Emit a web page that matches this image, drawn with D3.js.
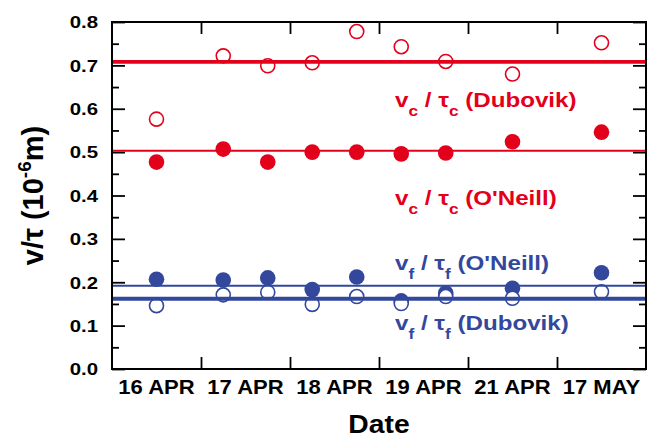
<!DOCTYPE html>
<html>
<head>
<meta charset="utf-8">
<script src="https://cdn.jsdelivr.net/npm/d3@7"></script>
<style>
  body { margin: 0; background: #fff; }
  text { font-family: "Liberation Sans", Arial, sans-serif; font-weight: bold; }
</style>
</head>
<body>
<div id="dataviz_area"></div>
<script>
// dates on the x axis, one band each
var dates = ["16 APR", "17 APR", "18 APR", "19 APR", "21 APR", "17 MAY"];

// when each measurement was taken, in band units (0 = start of 16 APR)
var obs_pos = [0.5, 1.25, 1.75, 2.25, 2.75, 3.25, 3.75, 4.5, 5.5];

// v/tau values, 10^-6 m
var vc_dubovik = [0.576, 0.722, 0.699, 0.706, 0.778, 0.743, 0.709, 0.680, 0.752];
var vc_oneill  = [0.477, 0.507, 0.477, 0.500, 0.500, 0.496, 0.498, 0.524, 0.546];
var vf_oneill  = [0.207, 0.205, 0.210, 0.183, 0.212, 0.157, 0.175, 0.186, 0.222];
var vf_dubovik = [0.146, 0.171, 0.177, 0.149, 0.167, 0.151, 0.167, 0.163, 0.178];

// mean of each series, drawn as horizontal lines
var mean_names  = ["vc_dubovik", "vc_oneill", "vf_oneill", "vf_dubovik"];
var mean_values = [0.708, 0.503, 0.192, 0.162];

var y_major = [0, 0.1, 0.2, 0.3, 0.4, 0.5, 0.6, 0.7, 0.8];
var y_minor = [0.05, 0.15, 0.25, 0.35, 0.45, 0.55, 0.65, 0.75];

var red = "#e3001b", blue = "#33489c";

var margin = {top: 22, right: 3, bottom: 70, left: 112},
    width = 649 - margin.left - margin.right,
    height = 439 - margin.top - margin.bottom;

var svg = d3.select("#dataviz_area")
    .append("svg")
    .attr("width", 649)
    .attr("height", 439);

var canvas = svg.append("g")
    .attr("transform", "translate(" + margin.left + "," + margin.top + ")");

var scale_x = d3.scaleLinear()
    .domain([0, dates.length])
    .range([0, width]);

var scale_y = d3.scaleLinear()
    .domain([0, 0.8])
    .range([height, 0]);

// ticks point inward on all four sides
function ticks(axis, size, vals, tr) {
    var g = canvas.append("g")
	.attr("transform", tr)
	.call(axis.tickValues(vals).tickSize(-size).tickFormat(""));
    g.select(".domain").remove();
    g.selectAll("line").attr("stroke", "#000").attr("stroke-width", 1.8);
}
ticks(d3.axisLeft(scale_y), 13, y_major, "translate(0,0)");
ticks(d3.axisLeft(scale_y), 7, y_minor, "translate(0,0)");
ticks(d3.axisRight(scale_y), 13, y_major, "translate(" + width + ",0)");
ticks(d3.axisRight(scale_y), 7, y_minor, "translate(" + width + ",0)");
ticks(d3.axisBottom(scale_x), 12, d3.range(1, dates.length), "translate(0," + height + ")");
ticks(d3.axisTop(scale_x), 12, d3.range(1, dates.length), "translate(0,0)");

// wide-ish bold labels, stretched a bit horizontally
function label(x, y, str, size, anchor, sx) {
    return svg.append("g")
	.attr("transform", "translate(" + x + "," + y + ") scale(" + sx + ",1)")
	.append("text")
	.attr("text-anchor", anchor)
	.attr("font-size", size)
	.attr("fill", "#000")
	.text(str);
}

y_major.forEach(function(v) {
    label(margin.left - 14, margin.top + scale_y(v) + 6.3, d3.format(".1f")(v), 17, "end", 1.2);
});

dates.forEach(function(d, i) {
    label(margin.left + scale_x(i + 0.5), 393.5, d, 19.5, "middle", 1.13);
});

label(margin.left + width / 2, 433, "Date", 25.5, "middle", 1.11);

// y title, rotated
var ytitle = svg.append("text")
    .attr("transform", "translate(43," + (margin.top + height / 2) + ") rotate(-90)")
    .attr("text-anchor", "middle")
    .attr("font-size", 29);
ytitle.append("tspan").text("v/\u03c4 (10");
ytitle.append("tspan").attr("font-size", 19).attr("dy", -12).text("-6");
ytitle.append("tspan").attr("dy", 12).text("m)");

// filled (O'Neill) under open (Dubovik)
function dots(vals, col, filled) {
    canvas.append("g")
	.selectAll("circle")
	.data(vals)
	.enter()
	.append("circle")
	.attr("cx", function(d, i) { return scale_x(obs_pos[i]); })
	.attr("cy", function(d) { return scale_y(d); })
	.attr("r", filled ? 7.8 : 7)
	.attr("fill", filled ? col : "#fff")
	.attr("stroke", filled ? "none" : col)
	.attr("stroke-width", 1.6);
}
dots(vc_oneill, red, true);
dots(vf_oneill, blue, true);
dots(vc_dubovik, red, false);
dots(vf_dubovik, blue, false);

// mean lines: Dubovik thick, O'Neill thin
var mean_col = [red, red, blue, blue];
var mean_w = [3.6, 2, 2, 4];
canvas.append("g")
    .selectAll("line")
    .data(mean_values)
    .enter()
    .append("line")
    .attr("x1", 0)
    .attr("x2", width)
    .attr("y1", function(d) { return scale_y(d); })
    .attr("y2", function(d) { return scale_y(d); })
    .attr("stroke", function(d, i) { return mean_col[i]; })
    .attr("stroke-width", function(d, i) { return mean_w[i]; });

// frame
canvas.append("rect")
    .attr("width", width)
    .attr("height", height)
    .attr("fill", "none")
    .attr("stroke", "#000")
    .attr("stroke-width", 2);

// series labels
var series_labels = [
    {sub: "c", name: "Dubovik", col: red, base: 106.7},
    {sub: "c", name: "O'Neill", col: red, base: 205},
    {sub: "f", name: "O'Neill", col: blue, base: 270},
    {sub: "f", name: "Dubovik", col: blue, base: 330}];

series_labels.forEach(function(d) {
    var t = svg.append("g")
	.attr("transform", "translate(395," + d.base + ") scale(1.15,1)")
	.append("text")
	.attr("font-size", 21)
	.attr("fill", d.col);
    t.append("tspan").text("v");
    t.append("tspan").attr("font-size", 15).attr("dy", 9).text(d.sub);
    t.append("tspan").attr("dy", -9).text(" / \u03c4");
    t.append("tspan").attr("font-size", 15).attr("dy", 9).text(d.sub);
    t.append("tspan").attr("dy", -9).text(" (" + d.name + ")");
});
</script>
</body>
</html>
